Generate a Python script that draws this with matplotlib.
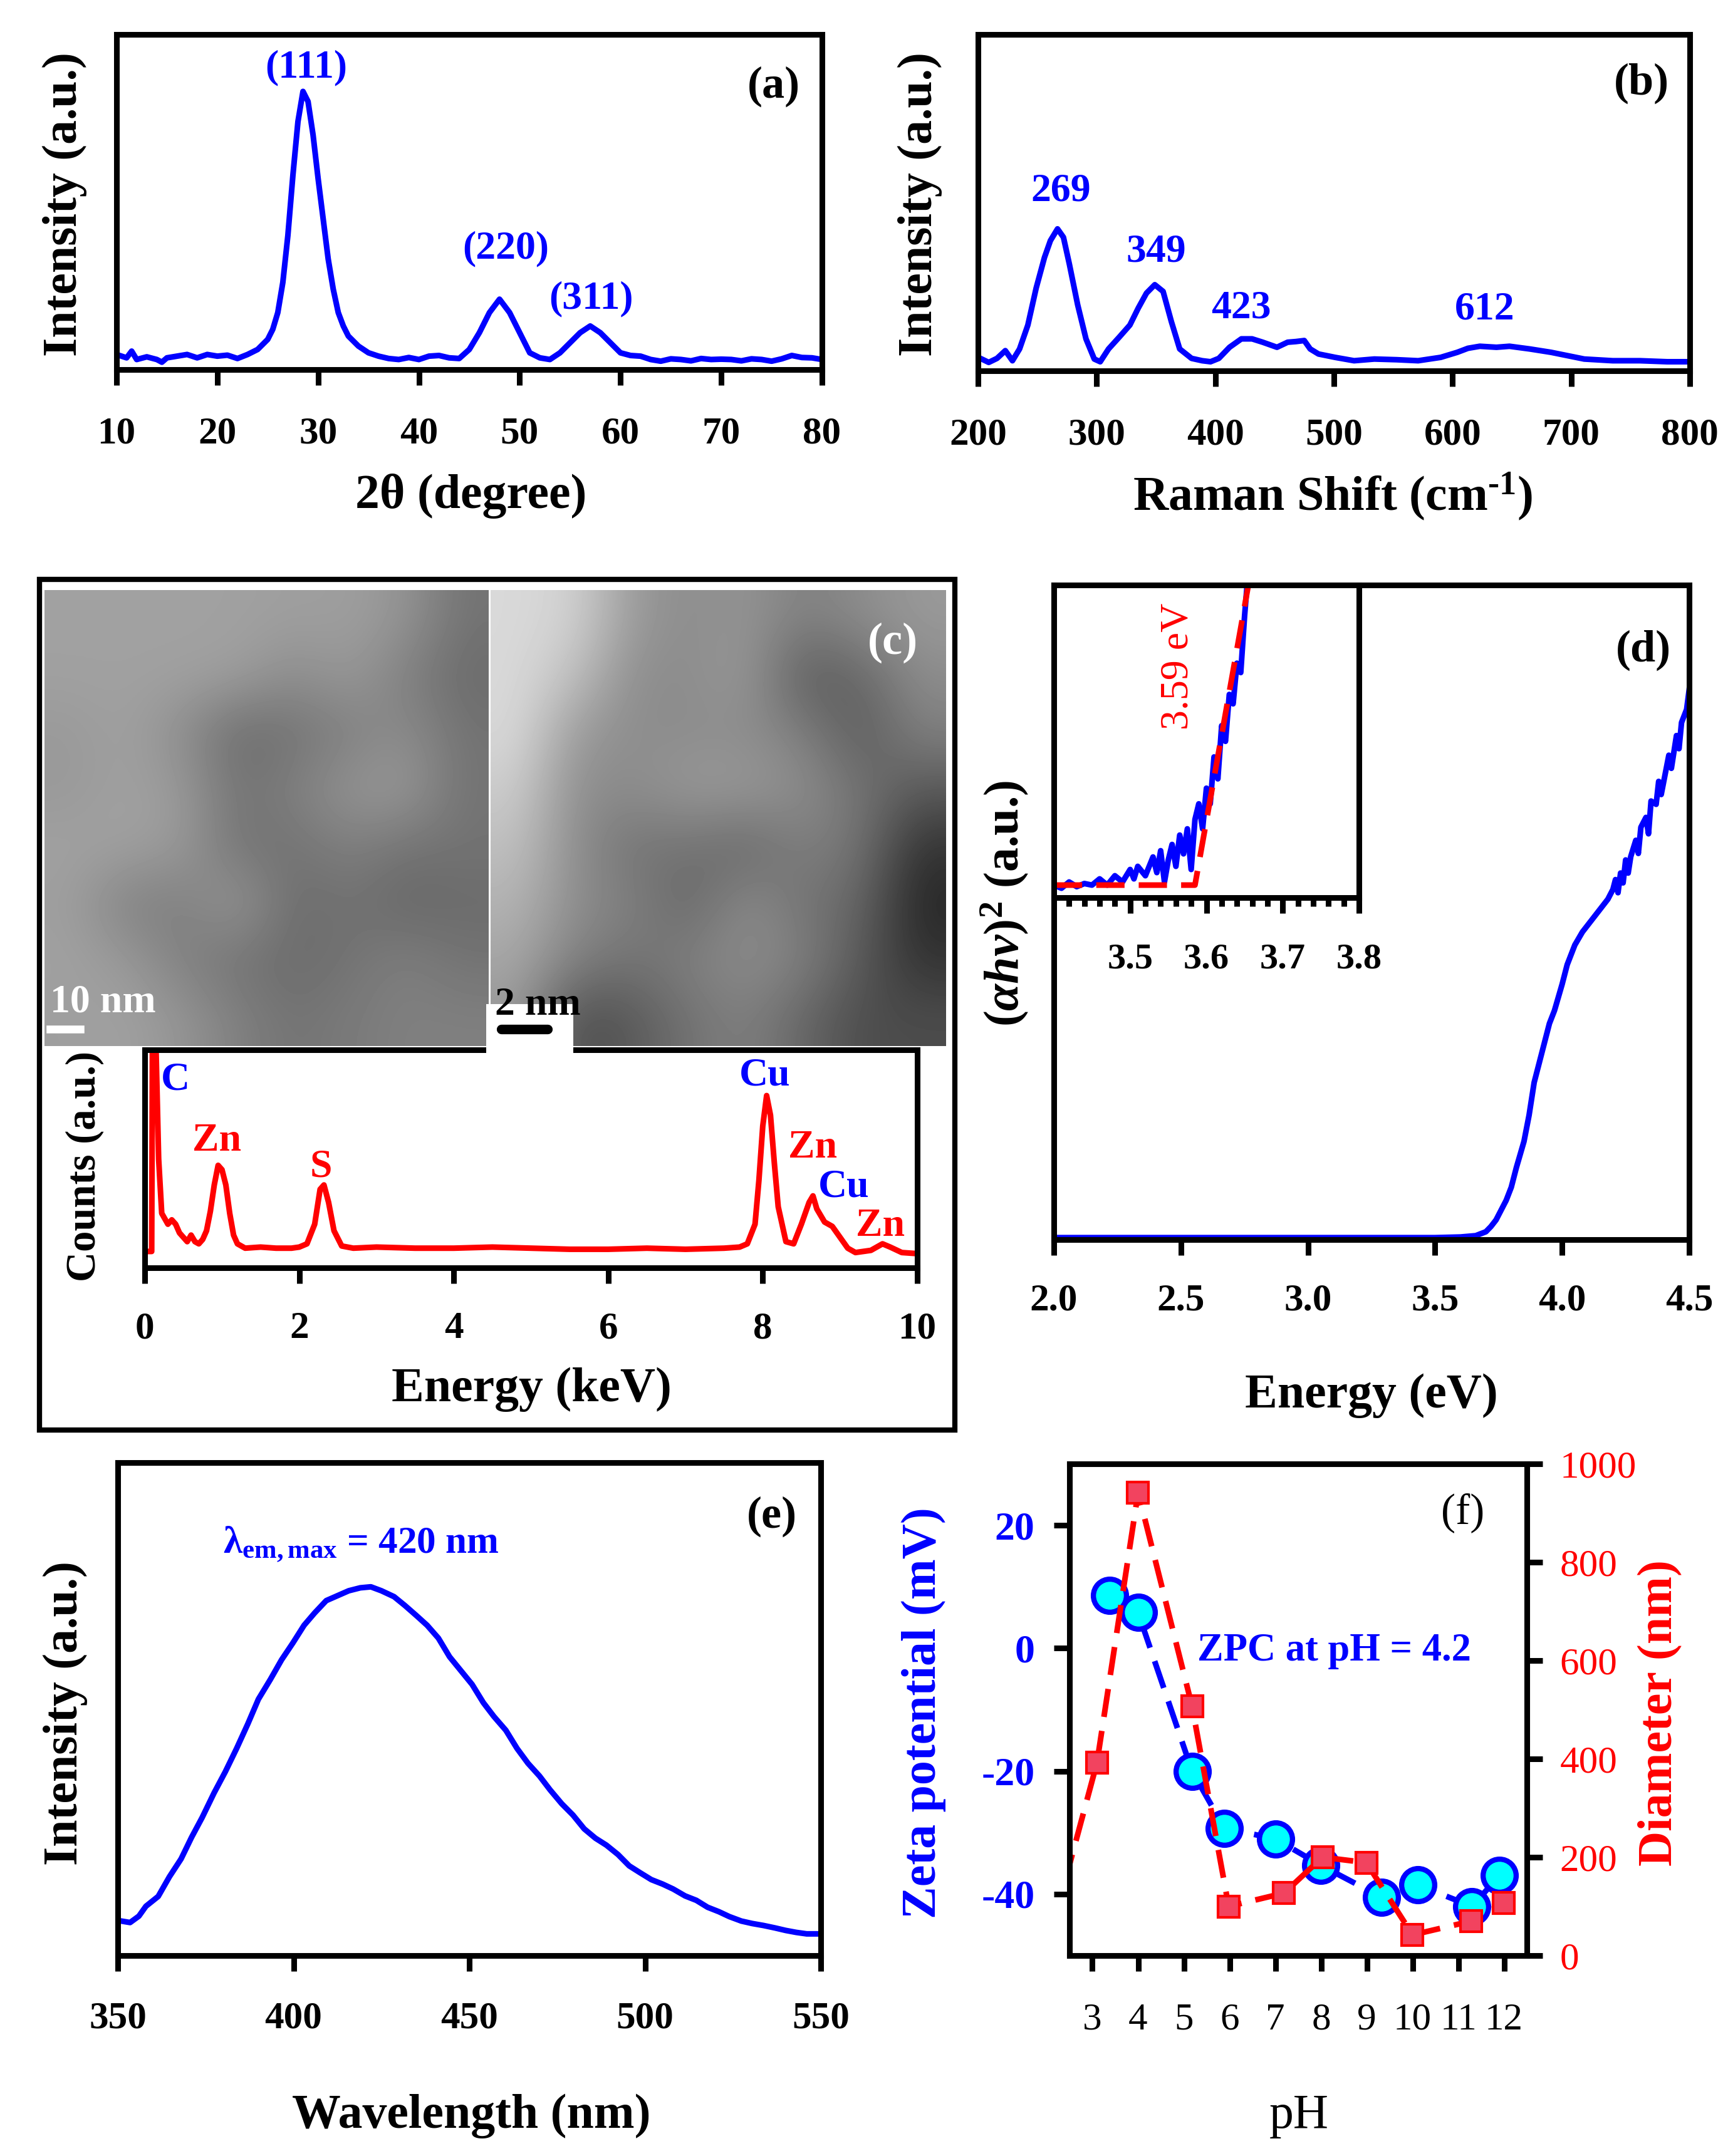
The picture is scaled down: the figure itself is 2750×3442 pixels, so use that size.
import matplotlib
matplotlib.use('Agg')
import matplotlib.pyplot as plt
from matplotlib.patches import Rectangle

# ---------------- data ----------------
# (a) XRD pattern, intensity normalised to the axis height
xrd_2theta = [10, 11, 11.5, 12, 13, 14, 14.5, 15, 16, 17, 18, 19, 20, 21, 22, 23, 24, 25,
              25.5, 26, 26.5, 27, 27.5, 28, 28.5, 29, 29.5, 30, 30.5, 31, 31.5, 32, 32.5,
              33, 34, 35, 36, 37, 38, 39, 40, 41, 42, 43, 44, 45, 46, 47, 48, 49, 50, 51,
              52, 53, 54, 55, 56, 57, 58, 59, 60, 61, 62, 63, 64, 65, 66, 67, 68, 69, 70,
              71, 72, 73, 74, 75, 76, 77, 78, 79, 80]
xrd_int = [0.045, 0.035, 0.055, 0.03, 0.038, 0.03, 0.022, 0.035, 0.04, 0.045, 0.035, 0.045,
           0.04, 0.043, 0.033, 0.045, 0.06, 0.09, 0.12, 0.17, 0.26, 0.40, 0.58, 0.74, 0.83,
           0.80, 0.70, 0.57, 0.45, 0.33, 0.24, 0.17, 0.13, 0.10, 0.07, 0.05, 0.04, 0.033,
           0.03, 0.036, 0.03, 0.04, 0.042, 0.035, 0.033, 0.06, 0.11, 0.17, 0.21, 0.17, 0.11,
           0.05, 0.035, 0.03, 0.05, 0.08, 0.11, 0.13, 0.11, 0.08, 0.05, 0.042, 0.04, 0.03,
           0.025, 0.032, 0.03, 0.026, 0.033, 0.03, 0.031, 0.03, 0.026, 0.032, 0.03, 0.025,
           0.032, 0.042, 0.036, 0.035, 0.03]
xrd_labels = ['(111)', '(220)', '(311)']

# (b) Raman spectrum
raman_shift = [202, 209, 216, 223, 229, 235, 242, 249, 256, 261, 267, 272, 277, 284, 291,
               298, 303, 310, 319, 328, 335, 342, 349, 356, 363, 370, 380, 389, 396, 403,
               412, 422, 431, 440, 452, 461, 468, 475, 480, 487, 501, 517, 534, 553, 571,
               590, 604, 613, 623, 637, 648, 665, 683, 697, 711, 735, 758, 781, 800]
raman_int = [0.037, 0.025, 0.037, 0.06, 0.03, 0.065, 0.136, 0.246, 0.337, 0.387, 0.422,
             0.397, 0.317, 0.196, 0.095, 0.035, 0.027, 0.065, 0.1, 0.136, 0.186, 0.231,
             0.256, 0.236, 0.146, 0.065, 0.037, 0.03, 0.027, 0.037, 0.07, 0.095, 0.095,
             0.085, 0.07, 0.085, 0.087, 0.09, 0.065, 0.05, 0.04, 0.03, 0.035, 0.033, 0.03,
             0.04, 0.055, 0.067, 0.073, 0.07, 0.073, 0.065, 0.055, 0.045, 0.035, 0.03, 0.03,
             0.027, 0.027]
raman_labels = ['269', '349', '423', '612']

# (c) EDS spectrum
eds_kev = [0.0, 0.09, 0.1, 0.14, 0.18, 0.22, 0.3, 0.35, 0.4, 0.45, 0.5, 0.55, 0.6, 0.65,
           0.7, 0.75, 0.8, 0.85, 0.9, 0.95, 1.0, 1.05, 1.1, 1.15, 1.2, 1.3, 1.5, 1.7, 1.9,
           2.0, 2.1, 2.2, 2.27, 2.32, 2.38, 2.45, 2.55, 2.7, 3.0, 3.5, 4.0, 4.5, 5.0, 5.5,
           6.0, 6.5, 7.0, 7.5, 7.7, 7.8, 7.9, 7.95, 8.0, 8.05, 8.1, 8.15, 8.2, 8.3, 8.4,
           8.5, 8.6, 8.65, 8.7, 8.8, 8.9, 9.0, 9.1, 9.2, 9.3, 9.4, 9.5, 9.55, 9.65, 9.8, 10.0]
eds_counts = [0.075, 0.075, 1.1, 1.1, 0.5, 0.25, 0.2, 0.22, 0.2, 0.16, 0.14, 0.12, 0.15,
              0.12, 0.11, 0.13, 0.17, 0.26, 0.38, 0.47, 0.45, 0.38, 0.25, 0.15, 0.11, 0.09,
              0.095, 0.09, 0.09, 0.095, 0.11, 0.2, 0.36, 0.38, 0.3, 0.17, 0.1, 0.09, 0.095,
              0.09, 0.09, 0.095, 0.09, 0.085, 0.085, 0.09, 0.085, 0.09, 0.095, 0.11, 0.2,
              0.4, 0.65, 0.79, 0.7, 0.48, 0.28, 0.12, 0.11, 0.2, 0.3, 0.33, 0.27, 0.21, 0.19,
              0.14, 0.09, 0.07, 0.075, 0.08, 0.1, 0.11, 0.095, 0.07, 0.065]
eds_elements = ['C', 'Zn', 'S', 'Cu', 'Zn', 'Cu', 'Zn']
eds_element_colors = ['#0000FF', '#FF0000', '#FF0000', '#0000FF', '#FF0000', '#0000FF', '#FF0000']

# TEM micrographs, coarse grey levels
tem_low = [[0.63, 0.63, 0.63, 0.63, 0.62, 0.62, 0.58, 0.45],
           [0.63, 0.63, 0.63, 0.62, 0.55, 0.60, 0.50, 0.42],
           [0.60, 0.63, 0.55, 0.42, 0.45, 0.50, 0.55, 0.45],
           [0.60, 0.63, 0.60, 0.45, 0.50, 0.58, 0.60, 0.45],
           [0.63, 0.63, 0.60, 0.45, 0.45, 0.50, 0.45, 0.45],
           [0.62, 0.50, 0.50, 0.60, 0.42, 0.45, 0.40, 0.42],
           [0.63, 0.60, 0.50, 0.45, 0.42, 0.45, 0.50, 0.45],
           [0.62, 0.63, 0.58, 0.50, 0.45, 0.48, 0.50, 0.50]]
tem_high = [[0.85, 0.82, 0.60, 0.55, 0.58, 0.50, 0.55, 0.60],
            [0.85, 0.75, 0.55, 0.55, 0.60, 0.35, 0.40, 0.55],
            [0.85, 0.60, 0.55, 0.55, 0.55, 0.50, 0.35, 0.50],
            [0.80, 0.55, 0.55, 0.60, 0.60, 0.55, 0.45, 0.35],
            [0.75, 0.55, 0.45, 0.45, 0.40, 0.50, 0.45, 0.20],
            [0.70, 0.55, 0.50, 0.40, 0.55, 0.45, 0.40, 0.15],
            [0.65, 0.50, 0.45, 0.50, 0.55, 0.50, 0.35, 0.20],
            [0.60, 0.30, 0.35, 0.45, 0.50, 0.40, 0.30, 0.30]]

# (d) Tauc plot
tauc_ev = [2.0, 2.5, 3.0, 3.5, 3.6, 3.66, 3.7, 3.72, 3.74, 3.76, 3.78, 3.8, 3.82, 3.85,
           3.87, 3.89, 3.91, 3.93, 3.95, 3.97, 4.0, 4.02, 4.05, 4.08, 4.11, 4.14, 4.16,
           4.18, 4.2, 4.21, 4.22, 4.23, 4.24, 4.25, 4.26, 4.27, 4.29, 4.3, 4.31, 4.33,
           4.34, 4.35, 4.37, 4.38, 4.39, 4.41, 4.42, 4.43, 4.45, 4.46, 4.47, 4.49, 4.5]
tauc_y = [0.003, 0.003, 0.003, 0.003, 0.004, 0.006, 0.012, 0.02, 0.03, 0.045, 0.06, 0.08,
          0.11, 0.15, 0.19, 0.24, 0.27, 0.30, 0.33, 0.35, 0.39, 0.42, 0.45, 0.47, 0.485,
          0.50, 0.51, 0.52, 0.535, 0.55, 0.53, 0.56, 0.545, 0.58, 0.56, 0.585, 0.61, 0.59,
          0.63, 0.645, 0.62, 0.67, 0.665, 0.70, 0.68, 0.72, 0.74, 0.72, 0.77, 0.75, 0.79,
          0.81, 0.84]
inset_ev = [3.40, 3.41, 3.42, 3.43, 3.44, 3.45, 3.46, 3.47, 3.48, 3.49, 3.50, 3.505, 3.51,
            3.52, 3.53, 3.535, 3.54, 3.545, 3.55, 3.555, 3.56, 3.565, 3.57, 3.575, 3.58,
            3.585, 3.59, 3.595, 3.60, 3.605, 3.61, 3.615, 3.62, 3.625, 3.63, 3.635, 3.64,
            3.645, 3.65, 3.655]
inset_y = [0.04, 0.03, 0.05, 0.035, 0.045, 0.04, 0.06, 0.04, 0.07, 0.05, 0.09, 0.06, 0.1,
           0.07, 0.13, 0.08, 0.15, 0.05, 0.12, 0.17, 0.1, 0.2, 0.14, 0.22, 0.09, 0.25, 0.3,
           0.22, 0.35, 0.3, 0.45, 0.38, 0.55, 0.5, 0.65, 0.62, 0.75, 0.72, 0.9, 1.05]
fit_ev = [3.40, 3.585, 3.655]
fit_y = [0.04, 0.04, 1.0]
band_gap = '3.59 eV'

# (e) photoluminescence
pl_nm = [351, 353.5, 356, 358, 361.5, 364.7, 368, 371, 374, 377.4, 380.6, 383.8, 387, 390,
         393.4, 396.6, 399.8, 403, 406, 409.3, 412.5, 415.7, 419, 422, 425, 428.6, 431.7,
         434.9, 438, 441.2, 444.4, 447.6, 450.8, 454, 457, 460.4, 463.6, 466.7, 470, 473,
         476.3, 479.5, 482.7, 485.9, 489, 492.3, 495.5, 498.6, 501.8, 505, 508, 511.4,
         514.6, 517.8, 521, 524, 527.4, 530.5, 533.7, 537, 540, 543, 546, 549.4]
pl_int = [0.07, 0.067, 0.08, 0.1, 0.12, 0.16, 0.196, 0.24, 0.28, 0.33, 0.373, 0.42, 0.47,
          0.52, 0.56, 0.6, 0.634, 0.67, 0.695, 0.72, 0.73, 0.74, 0.746, 0.748, 0.74, 0.728,
          0.71, 0.69, 0.67, 0.644, 0.606, 0.578, 0.55, 0.513, 0.485, 0.457, 0.42, 0.39,
          0.364, 0.336, 0.308, 0.285, 0.257, 0.238, 0.224, 0.205, 0.182, 0.168, 0.154, 0.145,
          0.135, 0.121, 0.112, 0.098, 0.089, 0.079, 0.07, 0.065, 0.061, 0.056, 0.051, 0.047,
          0.044, 0.044]

# (f) zeta potential and hydrodynamic diameter vs pH
zeta_ph = [3.37, 4.0, 5.18, 5.89, 7.0, 7.99, 9.32, 10.11, 11.3, 11.9]
zeta_mv = [8.6, 5.8, -20, -29.3, -31, -35.3, -40.5, -38.5, -42, -37]
diam_ph = [2.4, 3.1, 4.0, 5.18, 5.98, 7.19, 8.03, 8.99, 10.0, 11.28, 12.0]
diam_nm = [150, 392, 942, 507, 100, 127, 200, 189, 42, 70, 107]

# ---------------- figure ----------------
W, H = 2750, 3442
BLUE, RED = '#0000FF', '#FF0000'
LW = 6.5

plt.rcParams['font.family'] = 'serif'
plt.rcParams['font.serif'] = ['Liberation Serif', 'DejaVu Serif']
plt.rcParams['font.weight'] = 'bold'
plt.rcParams['axes.unicode_minus'] = False
plt.rcParams['axes.linewidth'] = LW
plt.rcParams['mathtext.fontset'] = 'custom'
plt.rcParams['mathtext.rm'] = 'Liberation Serif'
plt.rcParams['mathtext.it'] = 'Liberation Serif:italic:bold'
plt.rcParams['mathtext.bf'] = 'Liberation Serif:bold'

fig = plt.figure(figsize=(W / 100, H / 100), dpi=100)


def box(left, top, right, bottom):
    return [left / W, 1 - bottom / H, (right - left) / W, (bottom - top) / H]


def ftext(x, y, s, **kw):
    kw.setdefault('ha', 'center')
    kw.setdefault('va', 'center')
    kw.setdefault('fontsize', 56)
    return fig.text(x / W, 1 - y / H, s, **kw)


def spectrum_axes(rect, xlim, xticks, pad):
    ax = fig.add_axes(rect)
    ax.set_xlim(*xlim)
    ax.set_ylim(0, 1)
    ax.set_xticks(xticks)
    ax.set_yticks([])
    ax.tick_params(axis='x', direction='out', length=18, width=LW, pad=pad, labelsize=44)
    return ax


# (a) XRD
ax_a = spectrum_axes(box(186, 55, 1312, 590), (10, 80), range(10, 81, 10), 36)
ax_a.plot(xrd_2theta, xrd_int, color=BLUE, lw=LW)
for lbl, (x, y) in zip(xrd_labels, [(28.85, 0.90), (48.6, 0.36), (57.1, 0.21)]):
    ax_a.text(x, y, lbl, color=BLUE, fontsize=46, ha='center', va='center')
ax_a.text(0.932, 0.845, '(a)', transform=ax_a.transAxes, fontsize=52, ha='center', va='center')
ftext(752, 792, '2θ (degree)')
ftext(103, 326, 'Intensity (a.u.)', rotation=90)

# (b) Raman
ax_b = spectrum_axes(box(1561, 55, 2697, 592), (200, 800), range(200, 801, 100), 36)
ax_b.plot(raman_shift, raman_int, color=BLUE, lw=LW)
for lbl, (x, y) in zip(raman_labels, [(270, 0.533), (350, 0.352), (422, 0.186), (627, 0.181)]):
    ax_b.text(x, y, lbl, color=BLUE, fontsize=46, ha='center', va='center')
ax_b.text(0.932, 0.855, '(b)', transform=ax_b.transAxes, fontsize=52, ha='center', va='center')
ftext(2127, 792, r'Raman Shift (cm$^{\text{-1}}$)')
ftext(1468, 326, 'Intensity (a.u.)', rotation=90)

# (c) TEM images + EDS
for grid, rect in [(tem_low, box(71, 942, 780, 1670)), (tem_high, box(783, 942, 1510, 1670))]:
    ax_img = fig.add_axes(rect)
    ax_img.imshow(grid, cmap='gray', vmin=0, vmax=1, interpolation='bicubic', aspect='auto')
    ax_img.axis('off')

ax_c = spectrum_axes(box(231, 1676, 1464, 2024), (0, 10), range(0, 11, 2), 32)
ax_c.plot(eds_kev, eds_counts, color=RED, lw=LW)
eds_pos = [(0.4, 0.86), (0.93, 0.58), (2.28, 0.46), (8.03, 0.88), (8.65, 0.55), (9.05, 0.37), (9.52, 0.19)]
for lbl, col, (x, y) in zip(eds_elements, eds_element_colors, eds_pos):
    ax_c.text(x, y, lbl, color=col, fontsize=46, ha='center', va='center')
ftext(848, 2218, 'Energy (keV)')
ftext(135, 1862, 'Counts (a.u.)', rotation=90, fontsize=48)

fig.add_artist(Rectangle((63 / W, 1 - 2283 / H), 1461 / W, 1358 / H, transform=fig.transFigure,
                         fill=False, lw=6, ec='black', zorder=5))
fig.add_artist(Rectangle((776 / W, 1 - 1686 / H), 139 / W, 83 / H, transform=fig.transFigure,
                         fc='white', ec='none', zorder=5))
ftext(80, 1600, '10 nm', color='white', fontsize=46, ha='left', zorder=6)
fig.add_artist(plt.Line2D([80 / W, 128 / W], [1 - 1643 / H] * 2, color='white', lw=9, zorder=6))
ftext(790, 1605, '2 nm', color='black', fontsize=46, ha='left', zorder=6)
fig.add_artist(plt.Line2D([800 / W, 874 / W], [1 - 1643 / H] * 2, color='black', lw=11,
                          solid_capstyle='round', zorder=6))
ftext(1425, 1026, '(c)', color='white', fontsize=52, zorder=6)

# (d) Tauc plot with inset
ax_d = spectrum_axes(box(1682, 934, 2696, 1979), (2.0, 4.5), [2.0, 2.5, 3.0, 3.5, 4.0, 4.5], 32)
ax_d.xaxis.set_major_formatter('{x:.1f}')
ax_d.plot(tauc_ev, tauc_y, color=BLUE, lw=LW)
ax_d.text(4.32, 0.90, '(d)', fontsize=52, ha='center', va='center')
ftext(2189, 2228, 'Energy (eV)')
ftext(1604, 1442, r'$(\alpha h\nu)^{\mathrm{2}}$ (a.u.)', rotation=90)

ax_in = fig.add_axes(box(1682, 934, 2169, 1433))
ax_in.set_xlim(3.4, 3.8)
ax_in.set_ylim(0, 1)
ax_in.set_yticks([])
ax_in.set_xticks([3.5, 3.6, 3.7, 3.8])
ax_in.set_xticks([3.42 + 0.02 * i for i in range(19)], minor=True)
ax_in.tick_params(axis='x', which='major', direction='out', length=18, width=LW, pad=34, labelsize=42)
ax_in.tick_params(axis='x', which='minor', direction='out', length=10, width=LW)
ax_in.plot(inset_ev, inset_y, color=BLUE, lw=LW)
ax_in.plot(fit_ev, fit_y, color=RED, lw=LW, ls=(0, (5, 2.5)))
ax_in.text(3.563, 0.74, band_gap, color=RED, fontsize=46, fontweight='normal',
           rotation=90, ha='center', va='center')

# (e) photoluminescence
ax_e = spectrum_axes(box(188, 2335, 1310, 3122), (350, 550), range(350, 551, 50), 34)
ax_e.plot(pl_nm, pl_int, color=BLUE, lw=LW)
ax_e.text(380, 0.835, r'λ$_{\mathbf{em,max}}$ = 420 nm', color=BLUE, fontsize=44, ha='left', va='center')
ax_e.text(536, 0.89, '(e)', fontsize=52, ha='center', va='center')
ftext(752, 3378, 'Wavelength (nm)')
ftext(104, 2735, 'Intensity (a.u.)', rotation=90)

# (f) zeta potential / diameter
ax_f = fig.add_axes(box(1707, 2337, 2437, 3122))
ax_f.set_xlim(2.5, 12.5)
ax_f.set_ylim(-50, 30)
ax_f.set_xticks(range(3, 13))
ax_f.set_yticks([-40, -20, 0, 20])
ax_f.tick_params(axis='x', direction='out', length=18, width=LW, pad=36, labelsize=44)
ax_f.tick_params(axis='y', direction='out', length=18, width=LW, pad=22, labelsize=46,
                 labelcolor=BLUE)
for t in ax_f.get_xticklabels():
    t.set_fontweight('normal')
for t in ax_f.get_yticklabels():
    t.set_fontweight('heavy')
ax_f.plot(zeta_ph, zeta_mv, color=BLUE, lw=LW, ls=(0, (5, 2.5)), marker='o', ms=38,
          mfc='#00FFFF', mec=BLUE, mew=6)
ax_f.text(5.3, -0.5, 'ZPC at pH = 4.2', color=BLUE, fontsize=45, ha='left', va='center')
ax_f.text(11.1, 22, '(f)', fontsize=50, fontweight='normal', ha='center', va='center')

ax_f2 = ax_f.twinx()
ax_f2.set_ylim(0, 1000)
ax_f2.set_yticks(range(0, 1001, 200))
ax_f2.tick_params(axis='y', direction='out', length=18, width=LW, pad=20, labelsize=44,
                  labelcolor=RED)
for t in ax_f2.get_yticklabels():
    t.set_fontweight('normal')
ax_f2.plot(diam_ph, diam_nm, color=RED, lw=LW, ls=(0, (5, 2.5)), marker='s', ms=24,
           mfc='#F2435F', mec=RED, mew=3, markevery=list(range(1, len(diam_ph))))
ftext(2073, 3378, 'pH', fontweight='normal')
ftext(1474, 2735, 'Zeta potential (mV)', rotation=90, color=BLUE)
ftext(2650, 2735, 'Diameter (nm)', rotation=90, color=RED)

fig.savefig('out.png', dpi=100, facecolor='white')
